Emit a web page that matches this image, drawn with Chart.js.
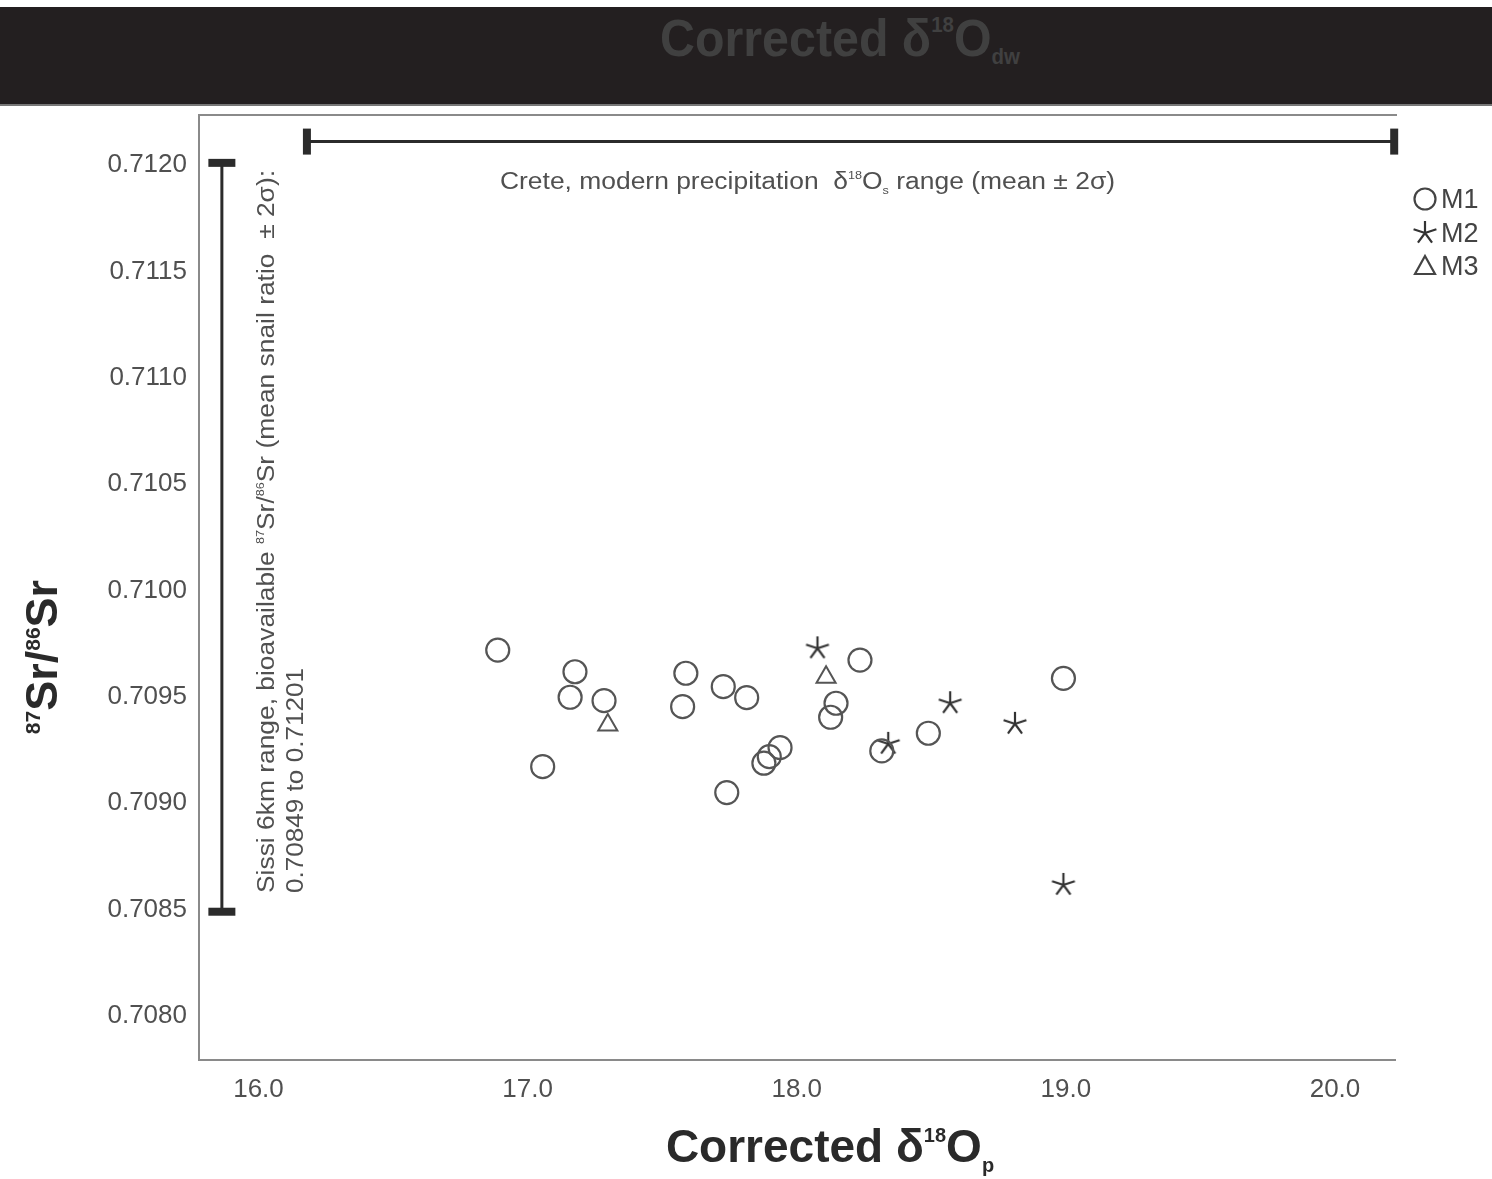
<!DOCTYPE html>
<html>
<head>
<meta charset="utf-8">
<script src="https://cdn.jsdelivr.net/npm/chart.js@4/dist/chart.umd.min.js"></script>
<style>
  html, body { margin: 0; padding: 0; background: #fff; }
  #wrap { position: relative; width: 1492px; height: 1179px; overflow: hidden; }
  #chart { position: absolute; left: 0; top: 0; }
  #header {
    position: absolute; left: 0; top: 7px; width: 1492px; height: 97px;
    background: #231f20; border-bottom: 2px solid #777;
  }
  #header span {
    position: absolute; left: 660px; top: 1px;
    font: bold 52px "Liberation Sans", Arial, sans-serif; color: #404040;
    transform: scaleX(0.93); transform-origin: left top; white-space: nowrap;
  }
  #header sup { font-size: 22px; vertical-align: 24px; }
  #header sub { font-size: 22px; vertical-align: -8px; }
</style>
</head>
<body>
<div id="wrap">
  <canvas id="chart" width="1492" height="1179"></canvas>
  <div id="header"><span>Corrected δ<sup>18</sup>O<sub>dw</sub></span></div>
</div>
<script>
// ===== data =====
const xTicks = [16.0, 17.0, 18.0, 19.0, 20.0];
const yTicks = [0.7080, 0.7085, 0.7090, 0.7095, 0.7100, 0.7105, 0.7110, 0.7115, 0.7120];

const m1X = [16.889, 17.176, 17.158, 17.284, 17.056, 17.588, 17.576, 17.727, 17.814, 17.938,
             17.898, 17.878, 17.740, 18.235, 18.146, 18.126, 18.316, 18.489, 18.991];
const m1Y = [0.709720, 0.709618, 0.709498, 0.709482, 0.709172, 0.709611, 0.709454, 0.709548, 0.709496, 0.709261,
             0.709219, 0.709188, 0.709050, 0.709673, 0.709470, 0.709404, 0.709246, 0.709329, 0.709587];
const m2X = [18.077, 18.340, 18.570, 18.811, 18.991];
const m2Y = [0.709728, 0.709279, 0.709470, 0.709373, 0.708616];
const m3X = [17.298, 18.109];
const m3Y = [0.709368, 0.709592];

// Crete precipitation range (x) and Sissi bioavailable Sr range (y)
const creteRangeX = [16.18, 20.22];
const creteRangeY = 0.71211;
const sissiRangeY = [0.70849, 0.71201];
const sissiRangeX = 15.864;

const FONT = '"Liberation Sans", Arial, sans-serif';

function toPoints(xs, ys) {
    return xs.map((x, i) => ({ x: x, y: ys[i] }));
}

// 5-arm asterisk marker
function makeStar(r, color) {
    const c = document.createElement('canvas');
    const s = Math.ceil(r * 2 + 4);
    c.width = s; c.height = s;
    const g = c.getContext('2d');
    g.strokeStyle = color;
    g.lineWidth = 2.2;
    g.beginPath();
    for (let k = 0; k < 5; k++) {
        const a = -Math.PI / 2 + k * 2 * Math.PI / 5;
        g.moveTo(s / 2, s / 2);
        g.lineTo(s / 2 + Math.cos(a) * r, s / 2 + Math.sin(a) * r);
    }
    g.stroke();
    return c;
}
const starImg = makeStar(12, '#333');

// text with super/subscripts: parts = [[text, size, dy]]
function drawRich(ctx, parts, x, y, align, weight, targetWidth) {
    let w = 0;
    parts.forEach(p => {
        ctx.font = weight + ' ' + p[1] + 'px ' + FONT;
        w += ctx.measureText(p[0]).width;
    });
    const sx = targetWidth ? targetWidth / w : 1;
    ctx.save();
    ctx.translate(x, y);
    ctx.scale(sx, 1);
    let cx = align === 'center' ? -w / 2 : 0;
    ctx.textAlign = 'left';
    ctx.textBaseline = 'alphabetic';
    parts.forEach(p => {
        ctx.font = weight + ' ' + p[1] + 'px ' + FONT;
        ctx.fillText(p[0], cx, p[2] || 0);
        cx += ctx.measureText(p[0]).width;
    });
    ctx.restore();
}

const decorPlugin = {
    id: 'decor',
    beforeDraw(chart) {
        const ctx = chart.ctx;
        ctx.save();
        ctx.fillStyle = '#fff';
        ctx.fillRect(0, 0, chart.width, chart.height);
        ctx.restore();
    },
    afterDraw(chart) {
        const ctx = chart.ctx;
        const a = chart.chartArea;
        ctx.save();

        // top frame line
        ctx.strokeStyle = '#8a8a8a';
        ctx.lineWidth = 2;
        ctx.beginPath();
        ctx.moveTo(a.left, a.top);
        ctx.lineTo(a.right + 2, a.top);
        ctx.stroke();

        // axis titles
        ctx.fillStyle = '#2a2a2a';
        drawRich(ctx, [['Corrected δ', 46], ['18', 20, -20], ['O', 46], ['p', 20, 10]], 830, 1162, 'center', 'bold');
        ctx.save();
        ctx.translate(57, 657);
        ctx.rotate(-Math.PI / 2);
        drawRich(ctx, [['87', 21, -17], ['Sr/', 45], ['86', 21, -17], ['Sr', 45]], 0, 0, 'center', 'bold');
        ctx.restore();

        // range annotations
        ctx.fillStyle = '#505050';
        drawRich(ctx, [['Crete, modern precipitation  δ', 23], ['18', 11, -10], ['O', 23], ['s', 11, 5],
                       [' range (mean ± 2σ)', 23]], 500, 189, 'left', 'normal', 615);
        ctx.save();
        ctx.translate(274, 893);
        ctx.rotate(-Math.PI / 2);
        drawRich(ctx, [['Sissi 6km range, bioavailable ', 23], ['87', 11, -10], ['Sr/', 23], ['86', 11, -10],
                       ['Sr (mean snail ratio  ± 2σ):', 23]], 0, 0, 'left', 'normal', 723);
        ctx.restore();
        ctx.save();
        ctx.translate(303, 893);
        ctx.rotate(-Math.PI / 2);
        drawRich(ctx, [['0.70849 to 0.71201', 23]], 0, 0, 'left', 'normal', 225);
        ctx.restore();

        // legend
        ctx.strokeStyle = '#444';
        ctx.lineWidth = 2.2;
        ctx.beginPath();
        ctx.arc(1425, 199, 10.5, 0, Math.PI * 2);
        ctx.stroke();
        ctx.drawImage(starImg, 1425 - starImg.width / 2, 233 - starImg.height / 2);
        ctx.beginPath();
        ctx.moveTo(1425, 256);
        ctx.lineTo(1435, 274);
        ctx.lineTo(1415, 274);
        ctx.closePath();
        ctx.stroke();
        ctx.fillStyle = '#444';
        ctx.font = '27px ' + FONT;
        ctx.textBaseline = 'middle';
        ['M1', 'M2', 'M3'].forEach((t, i) => ctx.fillText(t, 1441, [201, 235, 268][i]));
        ctx.restore();
    }
};

const ctx = document.getElementById('chart').getContext('2d');
new Chart(ctx, {
    type: 'scatter',
    data: {
        datasets: [
            {
                label: 'Crete range',
                data: [{ x: creteRangeX[0], y: creteRangeY }, { x: creteRangeX[1], y: creteRangeY }],
                showLine: true, borderColor: '#2b2b2b', borderWidth: 3,
                pointStyle: 'line', rotation: 90, pointRadius: 13, pointBorderWidth: 8,
                pointBorderColor: '#2b2b2b', clip: false
            },
            {
                label: 'Sissi range',
                data: [{ x: sissiRangeX, y: sissiRangeY[0] }, { x: sissiRangeX, y: sissiRangeY[1] }],
                showLine: true, borderColor: '#2b2b2b', borderWidth: 3,
                pointStyle: 'line', rotation: 0, pointRadius: 13.5, pointBorderWidth: 8,
                pointBorderColor: '#2b2b2b', clip: false
            },
            {
                label: 'M1', data: toPoints(m1X, m1Y),
                pointStyle: 'circle', pointRadius: 11.5, pointBorderWidth: 2.2,
                pointBorderColor: '#555', pointBackgroundColor: 'rgba(0,0,0,0)'
            },
            {
                label: 'M2', data: toPoints(m2X, m2Y),
                pointStyle: starImg, pointRadius: 12
            },
            {
                label: 'M3', data: toPoints(m3X, m3Y),
                pointStyle: 'triangle', pointRadius: 11, pointBorderWidth: 2,
                pointBorderColor: '#555', pointBackgroundColor: 'rgba(0,0,0,0)'
            }
        ]
    },
    options: {
        responsive: false,
        animation: false,
        events: [],
        layout: { padding: { top: 115, right: 97, left: 0, bottom: 0 } },
        plugins: { legend: { display: false }, tooltip: { enabled: false } },
        scales: {
            x: {
                type: 'linear', min: 15.779, max: 20.223,
                grid: { display: false, drawTicks: false },
                border: { display: true, color: '#8a8a8a', width: 2 },
                afterBuildTicks: s => { s.ticks = xTicks.map(v => ({ value: v })); },
                afterFit: s => { s.height = 119; },
                ticks: {
                    padding: 14, color: '#505050', font: { family: FONT, size: 26 },
                    callback: v => v.toFixed(1)
                }
            },
            y: {
                type: 'linear', min: 0.707793, max: 0.712235,
                grid: { display: false, drawTicks: false },
                border: { display: true, color: '#8a8a8a', width: 2 },
                afterBuildTicks: s => { s.ticks = yTicks.map(v => ({ value: v })); },
                afterFit: s => { s.width = 199; },
                ticks: {
                    padding: 12, color: '#505050', font: { family: FONT, size: 26 },
                    callback: v => v.toFixed(4)
                }
            }
        }
    },
    plugins: [decorPlugin]
});
</script>
</body>
</html>
